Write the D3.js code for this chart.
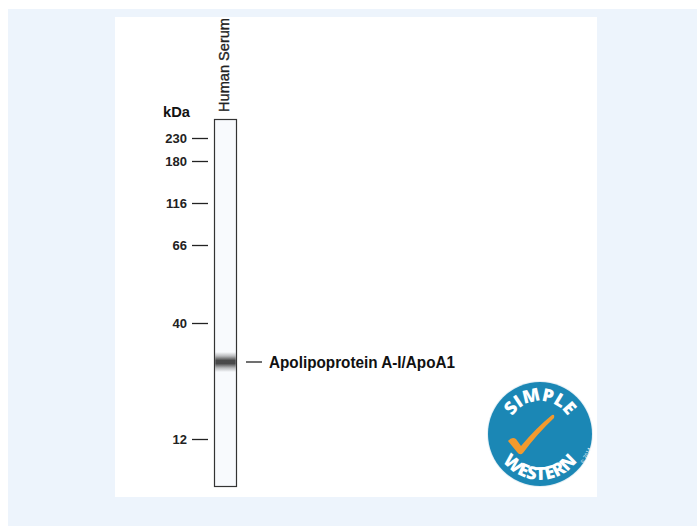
<!DOCTYPE html>
<html>
<head>
<meta charset="utf-8">
<script src="https://cdn.jsdelivr.net/npm/d3@7"></script>
<style>
  html, body { margin: 0; padding: 0; background: #fff; }
  svg { display: block; }
</style>
</head>
<body>
<div id="chart"></div>
<script>
// marker ladder (kDa) and the lane / band data
const markers = [230, 180, 116, 66, 40, 12];
const lanes = ["Human Serum"];
const bands = [{ lane: "Human Serum", kda: 27, label: "Apolipoprotein A-I/ApoA1" }];

const W = 697, H = 526;
const narrow = "'Liberation Sans Narrow', 'Arial Narrow', 'Liberation Sans', Arial, sans-serif";

const svg = d3.select("#chart").append("svg")
    .attr("width", W).attr("height", H);

// page panels
svg.append("rect").attr("x", 8).attr("y", 9).attr("width", W - 8).attr("height", H - 9)
    .attr("fill", "#edf4fc");
svg.append("rect").attr("x", 115).attr("y", 17).attr("width", 482).attr("height", 480)
    .attr("fill", "#fff");

// Simple Western migration is not a pure log scale, so piecewise through the ladder
const y = d3.scaleLinear()
    .domain([230, 180, 116, 66, 40, 27, 12])
    .range([138, 161, 203, 245, 323, 362, 439]);

const x = d3.scaleBand().domain(lanes).range([214, 236]);

const defs = svg.append("defs");
const grad = defs.append("linearGradient").attr("id", "band")
    .attr("x1", 0).attr("x2", 0).attr("y1", 0).attr("y2", 1);
[[0, 0], [0.2, 0.3], [0.42, 0.85], [0.58, 0.85], [0.8, 0.3], [1, 0]].forEach(s => {
    grad.append("stop").attr("offset", s[0]).attr("stop-color", "#2a2a2a").attr("stop-opacity", s[1]);
});

const g = svg.append("g");

// lane
lanes.forEach(l => {
    g.append("rect")
        .attr("x", x(l) + 0.5).attr("y", 119.5)
        .attr("width", x.bandwidth()).attr("height", 367)
        .attr("fill", "#f8fafd").attr("stroke", "#333").attr("stroke-width", 1.2);

    g.append("text")
        .attr("transform", `translate(${x(l) + x.bandwidth() / 2 + 4},112) rotate(-90)`)
        .attr("font-family", narrow)
        .attr("font-size", 15)
        .attr("fill", "#222").attr("stroke", "#222").attr("stroke-width", 0.35)
        .attr("textLength", 94).attr("lengthAdjust", "spacingAndGlyphs")
        .text(l);
});

// bands
bands.forEach(b => {
    g.append("rect")
        .attr("x", x(b.lane) + 1.2).attr("y", y(b.kda) - 10)
        .attr("width", x.bandwidth() - 1.4).attr("height", 20)
        .attr("fill", "url(#band)");
    g.append("line")
        .attr("x1", 246).attr("x2", 262)
        .attr("y1", y(b.kda)).attr("y2", y(b.kda))
        .attr("stroke", "#222").attr("stroke-width", 1.3);
    g.append("text")
        .attr("x", 269).attr("y", y(b.kda) + 5.5)
        .attr("font-family", narrow)
        .attr("font-weight", "bold")
        .attr("font-size", 16)
        .attr("fill", "#111")
        .attr("textLength", 186).attr("lengthAdjust", "spacingAndGlyphs")
        .text(b.label);
});

// marker axis
const axis = d3.axisLeft(y).tickValues(markers).tickSize(16).tickPadding(5);
const ax = svg.append("g").attr("transform", "translate(208,0)").call(axis);
ax.select(".domain").remove();
ax.selectAll(".tick line").attr("stroke", "#222").attr("stroke-width", 1.3);
ax.selectAll(".tick text")
    .attr("font-family", narrow)
    .attr("font-weight", "bold").attr("font-size", 13).attr("fill", "#222");

svg.append("text").attr("x", 163).attr("y", 117)
    .attr("font-family", narrow)
    .attr("font-weight", "bold").attr("font-size", 15).attr("fill", "#111")
    .attr("textLength", 27).attr("lengthAdjust", "spacingAndGlyphs")
    .text("kDa");

// Simple Western badge
const cx = 540, cy = 434, r = 52;
const logo = svg.append("g").attr("transform", `translate(${cx},${cy})`);
logo.append("circle").attr("r", r + 1).attr("fill", "#e6f0f6");
logo.append("circle").attr("r", r).attr("fill", "#1b87b5");

const rt = r - 19, rb = r - 6;
defs.append("path").attr("id", "arcTop")
    .attr("d", `M${cx - rt},${cy} A${rt},${rt} 0 0 1 ${cx + rt},${cy}`);
defs.append("path").attr("id", "arcBot")
    .attr("d", `M${cx - rb},${cy} A${rb},${rb} 0 0 0 ${cx + rb},${cy}`);

svg.append("text")
    .attr("font-family", "'Open Sans', 'DejaVu Sans', sans-serif")
    .attr("font-weight", 800).attr("font-size", 18).attr("fill", "#fff")
    .append("textPath").attr("href", "#arcTop").attr("startOffset", "50%")
    .attr("text-anchor", "middle").text("SIMPLE");
svg.append("text")
    .attr("font-family", "'Open Sans', 'DejaVu Sans', sans-serif")
    .attr("font-weight", 800).attr("font-size", 18).attr("fill", "#fff")
    .append("textPath").attr("href", "#arcBot").attr("startOffset", "50%")
    .attr("text-anchor", "middle").text("WESTERN");

// brush-style check mark
logo.append("path")
    .attr("d", "M-32,7 Q-28,2 -24,5 L-19,12 Q-4,-6 12,-19 Q15,-20 14,-16 Q-3,0 -17,19 Q-20,22 -23,18 Z")
    .attr("fill", "#f29a2e");

logo.append("text")
    .attr("transform", "translate(43,30) rotate(-62)")
    .attr("font-family", "'DejaVu Sans', sans-serif").attr("font-size", 4.5).attr("fill", "#fff")
    .text("© 2014");
</script>
</body>
</html>
